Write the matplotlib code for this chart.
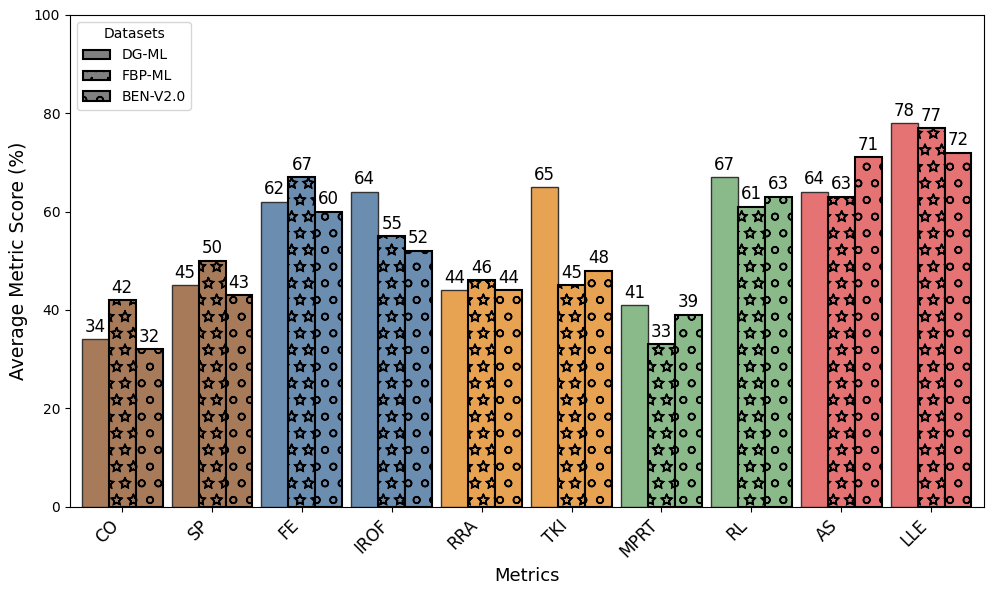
import matplotlib
matplotlib.use("Agg")
import matplotlib.pyplot as plt
import matplotlib.patches as mpatches
import matplotlib.hatch as mhatch
import numpy as np

# outlined (unfilled) star hatch as in the reference
mhatch.Stars.filled = False

metrics = ["CO", "SP", "FE", "IROF", "RRA", "TKI", "MPRT", "RL", "AS", "LLE"]
datasets = ["DG-ML", "FBP-ML", "BEN-V2.0"]
dg_ml = [34, 45, 62, 64, 44, 65, 41, 67, 64, 78]
fbp_ml = [42, 50, 67, 55, 46, 45, 33, 61, 63, 77]
ben_v2 = [32, 43, 60, 52, 44, 48, 39, 63, 71, 72]
colors = ["#a77b5a", "#a77b5a", "#6a8db0", "#6a8db0", "#e8a352", "#e8a352",
          "#8bba8a", "#8bba8a", "#e57373", "#e57373"]
hatches = ["", "*", "o"]

plt.rcParams['hatch.linewidth'] = 1.1
fig, ax = plt.subplots(figsize=(9.96, 5.94), dpi=100)
fig.subplots_adjust(left=0.0703, right=0.988, top=0.975, bottom=0.147)

x = np.arange(len(metrics))
w = 0.3
series = [dg_ml, fbp_ml, ben_v2]
for i, vals in enumerate(series):
    pos = x + (i - 1) * w
    if i == 0:
        bars = ax.bar(pos, vals, w, color=colors, edgecolor="#333333", linewidth=1.0)
    else:
        bars = ax.bar(pos, vals, w, color=colors, edgecolor="black", linewidth=1.5,
                      hatch=hatches[i])
    for b, v in zip(bars, vals):
        ax.text(b.get_x() + b.get_width() / 2, v + 0.7, str(v), ha="center",
                va="bottom", fontsize=12)

ax.set_xlim(-0.58, 9.59)
ax.set_ylim(0, 100)
ax.set_xticks(x)
ax.set_xticklabels(metrics, rotation=45, ha="right", fontsize=12)
ax.set_xlabel("Metrics", fontsize=13)
ax.set_ylabel("Average Metric Score (%)", fontsize=13.5)

handles = [mpatches.Patch(facecolor="gray", edgecolor="black", linewidth=1.5,
                          hatch=h, label=d) for h, d in zip(hatches, datasets)]
ax.legend(handles=handles, title="Datasets", loc="upper left", fontsize=10,
          title_fontsize=10)

fig.savefig("out.png", dpi=100)
